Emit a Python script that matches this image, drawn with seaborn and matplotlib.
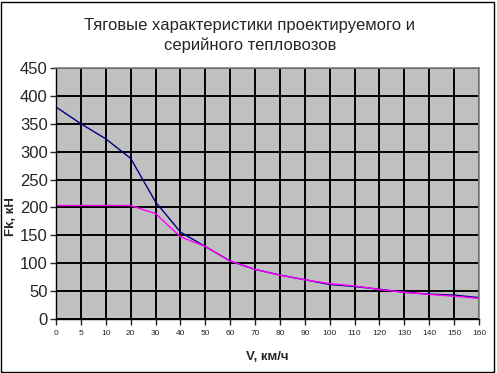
import matplotlib.pyplot as plt
import seaborn as sns
import pandas as pd

# скорость, км/ч (категориальная ось как в Excel)
speeds = ["0", "5", "10", "20", "30", "40", "50", "60", "70", "80",
          "90", "100", "110", "120", "130", "140", "150", "160"]
# проектируемый тепловоз
fk_design = [380, 350, 323, 288, 210, 156, 130, 104, 89, 79,
             70.5, 62, 58.5, 53.5, 48, 44.8, 43, 38.5]
# серийный тепловоз
fk_serial = [203.5, 203.5, 203.5, 203.5, 189, 147.5, 130, 104, 89, 78.5,
             70.5, 63.5, 59.5, 53, 48, 44.2, 41, 37]

sns.set_style("white")
plt.rcParams['font.family'] = ['Liberation Sans', 'DejaVu Sans']

fig = plt.figure(figsize=(4.97, 3.73), dpi=100)
ax = fig.add_axes([0.1127, 0.1445, 0.8511, 0.6733])
ax.set_facecolor("#c0c0c0")

df = pd.DataFrame({"V": speeds, "design": fk_design, "serial": fk_serial})
sns.lineplot(data=df, x="V", y="design", color="#000080", linewidth=1.0, ax=ax, sort=False)
sns.lineplot(data=df, x="V", y="serial", color="#ff00ff", linewidth=1.0, ax=ax, sort=False)

ax.set_xlim(0, len(speeds) - 1)
ax.set_ylim(0, 450)
ax.set_yticks(range(0, 451, 50))
ax.grid(True, color="black", linewidth=1.4)
ax.set_axisbelow(True)

for s in ["top", "right"]:
    ax.spines[s].set_color("#808080")
    ax.spines[s].set_linewidth(1.2)
for s in ["left", "bottom"]:
    ax.spines[s].set_color("black")
    ax.spines[s].set_linewidth(1.0)

ax.tick_params(axis="y", labelsize=12, length=4, width=1, direction="out", left=True, pad=2)
ax.tick_params(axis="x", labelsize=6, length=4, width=1, direction="out", bottom=True, pad=4)

ax.set_xlabel("V, км/ч", fontsize=9.5, fontweight="bold", labelpad=10)
ax.set_ylabel("Fk, кН", fontsize=9.5, fontweight="bold")
ax.yaxis.set_label_coords(-0.092, 0.41)

fig.text(0.503, 0.905, "Тяговые характеристики проектируемого и\nсерийного тепловозов",
         ha="center", va="center", fontsize=12, linespacing=1.3)

# рамка вокруг всей диаграммы
fig.patches.append(plt.Rectangle((0.002, 0.003), 0.992, 0.992, transform=fig.transFigure,
                                 fill=False, edgecolor="black", linewidth=1.0))

plt.savefig("out.png", dpi=100)
plt.close()
